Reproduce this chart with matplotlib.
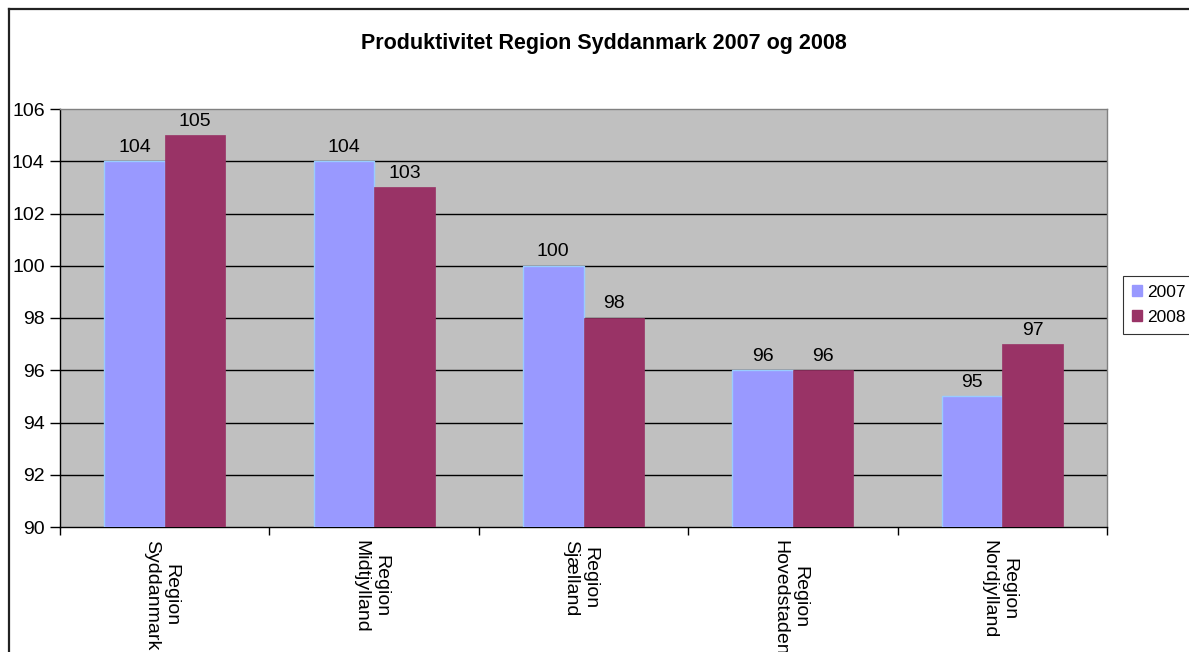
import matplotlib
matplotlib.use("Agg")
import matplotlib.pyplot as plt
from matplotlib.patches import Patch
from matplotlib.lines import Line2D
import numpy as np

plt.rcParams['font.family'] = ['Liberation Sans', 'DejaVu Sans']

categories = ["Region\nSyddanmark", "Region\nMidtjylland", "Region\nSjælland",
              "Region\nHovedstaden", "Region\nNordjylland"]
series_names = ["2007", "2008"]
values_2007 = [104, 104, 100, 96, 95]
values_2008 = [105, 103, 98, 96, 97]
yticks = [90, 92, 94, 96, 98, 100, 102, 104, 106]

W, H = 1189, 652
fig = plt.figure(figsize=(W / 100, H / 100), dpi=100)
fig.patch.set_facecolor('white')

ax = fig.add_axes([60 / W, 1 - 527 / H, (1107 - 60) / W, (527 - 109) / H])
ax.set_facecolor('#C0C0C0')

x = np.arange(len(categories))
bw = 0.289
c07, c08 = '#9999FF', '#993366'
b1 = ax.bar(x - bw / 2, np.array(values_2007) - 90, bw, bottom=90, color=c07,
            edgecolor='#99CCFF', linewidth=1, zorder=3)
b2 = ax.bar(x + bw / 2, np.array(values_2008) - 90, bw, bottom=90, color=c08,
            edgecolor=c08, linewidth=0.5, zorder=3)

for xi, v in zip(x - bw / 2, values_2007):
    ax.annotate(str(v), (xi, v), xytext=(0, 4), textcoords='offset points',
                ha='center', va='bottom', fontsize=14, zorder=5)
for xi, v in zip(x + bw / 2, values_2008):
    ax.annotate(str(v), (xi, v), xytext=(0, 4), textcoords='offset points',
                ha='center', va='bottom', fontsize=14, zorder=5)

ax.set_xlim(-0.5, len(categories) - 0.5)
ax.set_ylim(90, 106)
ax.set_yticks(yticks)
ax.set_yticklabels([str(t) for t in yticks], fontsize=14)
for t in yticks[1:-1]:
    ax.axhline(t, color='black', linewidth=1, zorder=1)

ax.set_xticks(np.arange(-0.5, len(categories), 1.0))
ax.set_xticklabels([])
ax.tick_params(axis='x', length=6, width=1, direction='out', color='black')
ax.tick_params(axis='y', length=7, width=1, direction='out', color='black', pad=4)

for xi, lab in zip(x, categories):
    ax.text(xi - 0.015, -0.03, lab, transform=ax.get_xaxis_transform(),
            rotation=-90, ha='center', va='top', multialignment='center',
            fontsize=14, linespacing=1.2)

for s in ['top', 'right']:
    ax.spines[s].set_color('#808080')
    ax.spines[s].set_linewidth(1)
for s in ['left', 'bottom']:
    ax.spines[s].set_color('black')
    ax.spines[s].set_linewidth(1)

fig.text(0.5 * (60 + 1147) / W, 1 - 43 / H, "Produktivitet Region Syddanmark 2007 og 2008",
         ha='center', va='center', fontsize=15.5, fontweight='bold')

handles = [Patch(facecolor=c07, edgecolor=c07), Patch(facecolor=c08, edgecolor=c08)]
leg = fig.legend(handles, series_names, loc='upper left',
                 bbox_to_anchor=(1123 / W, 1 - 276 / H), fontsize=12.5,
                 frameon=True, fancybox=False, handlelength=0.6, handleheight=0.6,
                 handletextpad=0.3, borderpad=0.5, labelspacing=0.6, borderaxespad=0)
leg.get_frame().set_edgecolor('black')
leg.get_frame().set_linewidth(0.8)

# figure border (only top and left visible)
fig.add_artist(Line2D([8.5 / W, 1.0], [1 - 8.5 / H, 1 - 8.5 / H], color='#222222',
                      linewidth=1.6, transform=fig.transFigure))
fig.add_artist(Line2D([8.5 / W, 8.5 / W], [0, 1 - 8.5 / H], color='#222222',
                      linewidth=1.6, transform=fig.transFigure))

fig.savefig('out.png', dpi=100)
